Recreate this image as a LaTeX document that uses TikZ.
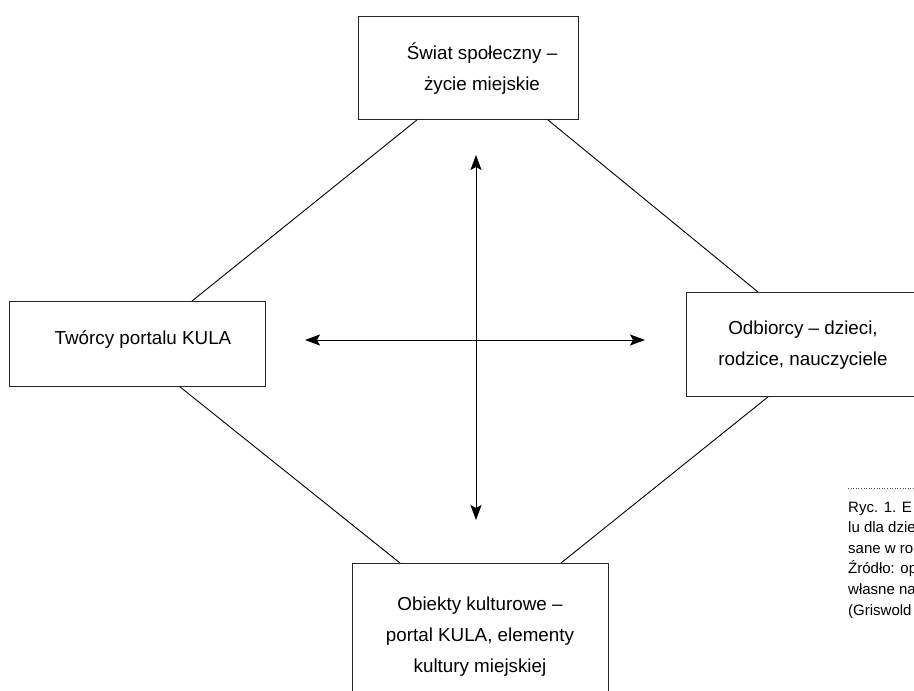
\documentclass[tikz,border=0pt]{standalone}
\usepackage{fontspec}
\setmainfont{Liberation Sans}
\usetikzlibrary{arrows.meta,calc}
\begin{document}
\begin{tikzpicture}[x=1pt,y=-1pt,
  box/.style={draw=black!85,line width=0.9pt,minimum width=#1,inner sep=0pt,anchor=north west},
  lbl/.style={font=\fontsize{18.8}{31}\selectfont,align=center,inner sep=0pt},
  captext/.style={font=\fontsize{15}{20.5}\selectfont,align=left,inner sep=0pt,anchor=base west},
  conn/.style={line width=0.9pt},
  dbl/.style={line width=1pt,{Stealth[length=15pt,width=11pt,inset=3pt]}-{Stealth[length=15pt,width=11pt,inset=3pt]}}]
\useasboundingbox (0,0) rectangle (914,691);
\clip (0,0) rectangle (914,691);
% boxes
\node[box=220pt,minimum height=103pt] (top) at (358,16) {};
\node[box=256pt,minimum height=85pt] (left) at (9,301) {};
\node[box=234pt,minimum height=104pt] (right) at (686,292) {};
\node[box=256pt,minimum height=160pt] (bottom) at (352,563) {};
% texts
\node[lbl] (topT) at (482,69) {Świat społeczny –\\życie miejskie};
\node[lbl] (leftT) at (143,340) {Twórcy portalu KULA};
\node[lbl] (rightT) at (803,345) {Odbiorcy – dzieci,\\rodzice, nauczyciele};
\node[lbl] (bottomT) at (480,637) {Obiekty kulturowe –\\portal KULA, elementy\\kultury miejskiej};
% connectors
\draw[conn] ([xshift=59pt]top.south west) -- ([xshift=183pt]left.north west);
\draw[conn] ([xshift=-31pt]top.south east) -- ([xshift=72pt]right.north west);
\draw[conn] ([xshift=171pt]left.south west) -- ([xshift=48pt]bottom.north west);
\draw[conn] ([xshift=82pt]right.south west) -- ([xshift=209pt]bottom.north west);
% arrows
\coordinate (hL) at (305,340);
\coordinate (hR) at (645,340);
\coordinate (vT) at (476,155);
\coordinate (vB) at (476,520);
\draw[dbl] (hL) -- (hR);
\draw[dbl] (vT) -- (vB);
% caption
\coordinate (dotA) at (848,488);
\coordinate (dotB) at (920,488);
\draw[line width=0.6pt,dotted,black!70] (dotA) -- (dotB);
\node[captext] (c1) at (848,512) {Ryc. 1. E};
\node[captext] (c2) at (848,532.6) {lu dla dzie};
\node[captext] (c3) at (848,553.2) {sane w ro};
\node[captext] (c4) at (848,573.8) {Źródło: op};
\node[captext] (c5) at (848,594.4) {własne na};
\node[captext] (c6) at (848,615) {(Griswold};
\end{tikzpicture}
\end{document}
